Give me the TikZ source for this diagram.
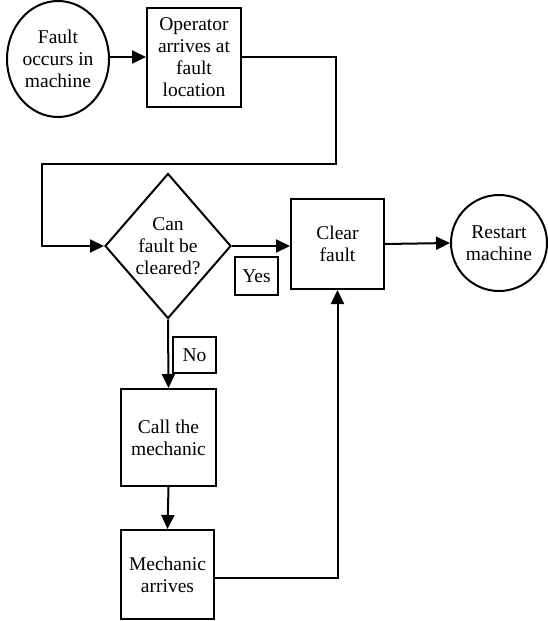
\documentclass[tikz,border=0pt]{standalone}
\usepackage{fontspec}
\setmainfont{Liberation Serif}
\newfontfamily\figfont{Liberation Serif}
\usetikzlibrary{shapes.geometric,arrows.meta}

\begin{document}
\begin{tikzpicture}[x=1pt,y=1pt,
  line width=2pt,
  every node/.style={font=\figfont\fontsize{19.5}{22}\selectfont, align=center, inner sep=0pt},
  box/.style={draw, rectangle},
  tag/.style={draw, rectangle, line width=1.8pt},
  arr/.style={-{Triangle[length=14pt,width=13pt]}}
]
\useasboundingbox (0,0) rectangle (548,-621);

% nodes
\node[draw, ellipse, minimum width=102, minimum height=116] (fault) at (58,-59) {Fault\\occurs in\\machine};
\node[box, minimum width=94, minimum height=99] (op) at (194,-57) {Operator\\arrives at\\fault\\location};
\node[draw, diamond, minimum width=126, minimum height=145] (q) at (168,-246) {};
\node at (q) {Can\\fault be\\cleared?};
\node[box, minimum width=93, minimum height=90] (clear) at (337.5,-244) {Clear\\fault};
\node[draw, circle, minimum size=96] (restart) at (499,-243) {Restart\\machine};
\node[tag, minimum width=43, minimum height=38] (yes) at (256.5,-276) {Yes};
\node[tag, minimum width=43, minimum height=36] (no) at (194.5,-355) {No};
\node[box, minimum width=95, minimum height=97] (call) at (168.5,-437.5) {Call the\\mechanic};
\node[box, minimum width=93, minimum height=89] (mech) at (167.5,-574.5) {Mechanic\\arrives};

% corner points of the return loop
\coordinate (c1) at (336,-164);
\coordinate (c2) at (42,-164);

% connectors
\draw[arr] (fault.east |- op.west) -- (op.west);
\draw[arr] (op.east) -| (c1) -- (c2) |- (q.west);
\draw[arr] (q.east) -- (q.east -| clear.west);
\draw[arr] (clear.east) -- (restart.west);
\draw[arr] (q.south) -- (call.north);
\draw[arr] (call.south) -- (mech.north);
\draw[arr] ([yshift=-3.5pt]mech.east) -| (clear.south);
\end{tikzpicture}
\end{document}
